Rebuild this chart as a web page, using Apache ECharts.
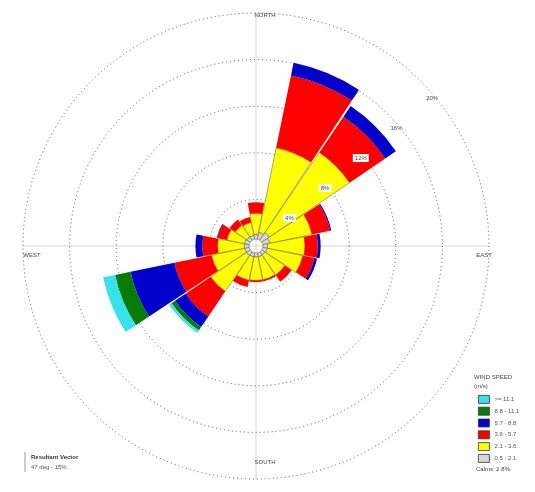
<!DOCTYPE html>
<html>
<head>
<meta charset="utf-8">
<script src="https://cdn.jsdelivr.net/npm/echarts@6/dist/echarts.min.js"></script>
<style>
  html, body { margin: 0; padding: 0; background: #fff; }
  #chart { width: 535px; height: 492px; }
</style>
</head>
<body>
<div id="chart"></div>
<script>
// Wind directions (blowing from), clockwise from north
const directions = ['N','NNE','NE','ENE','E','ESE','SE','SSE','S','SSW','SW','WSW','W','WNW','NW','NNW'];

// Wind speed classes (m/s) and their colours
const speedClasses = ['0.5 - 2.1','2.1 - 3.6','3.6 - 5.7','5.7 - 8.8','8.8 - 11.1','>= 11.1'];
const classColors  = ['#d8d8d8','#ffff00','#ff0000','#0000cc','#087a08','#38e2ea'];

// Frequency (%) of each speed class per direction
const calmCircle = [0.6,0.6,0.6,0.6,0.6,0.6,0.6,0.6,0.6,0.6,0.6,0.6,0.6,0.6,0.6,0.6];
const freq05to21 = [0.4,0.6,0.8,0.6,0.4,0.4,0.35,0.35,0.35,0.35,0.4,0.4,0.4,0.4,0.35,0.35];
const freq21to36 = [1.8,7.4,8.3,3.7,3.2,3.1,2.05,2.0,2.0,2.05,3.7,2.9,2.3,1.55,1.2,1.1];
const freq36to57 = [0.95,6.35,3.7,1.6,1.1,1.0,0.7,0.15,0.15,0.6,2.6,3.25,1.3,0.85,0.6,0.5];
const freq57to88 = [0,1.1,1.1,0.1,0.25,0.25,0,0,0,0,1.1,3.85,0.6,0.05,0,0];
const freq88to111 = [0,0,0,0,0,0,0,0,0,0,0.35,1.35,0,0,0,0];
const freqGe111  = [0,0,0,0,0,0,0,0,0,0,0.25,1.05,0,0,0,0];

// Ring values (%) and their labels
const ringValues = [4, 8, 12, 16, 20];
const ringLabels = ['4%','8%','12%','16%','20%'];

const calmsText = 'Calms: 2.8%';
const resultantTitle = 'Resultant Vector';
const resultantText = '47 deg - 15%';

// Layout of the rose
const CX = 256, CY = 246, R = 233;
const RMAX = 20;
const FONT = '"Liberation Sans", Arial, sans-serif';

const classData = [freq05to21, freq21to36, freq36to57, freq57to88, freq88to111, freqGe111];

const series = [{
  name: 'calm',
  type: 'bar',
  coordinateSystem: 'polar',
  stack: 'rose',
  data: calmCircle,
  silent: true,
  barCategoryGap: '3%',
  itemStyle: { color: 'rgba(0,0,0,0)' }
}];
speedClasses.forEach((name, i) => {
  series.push({
    name: name,
    type: 'bar',
    coordinateSystem: 'polar',
    stack: 'rose',
    data: classData[i],
    barCategoryGap: '3%',
    itemStyle: i <= 1
      ? { color: classColors[i], borderColor: '#555', borderWidth: 0.5 }
      : { color: classColors[i] }
  });
});

// Graphic elements: cross lines, compass labels, ring labels, info box
const graphics = [
  { type: 'line', z: 0, shape: { x1: CX - R, y1: CY, x2: CX + R, y2: CY }, style: { stroke: '#d4d4d4', lineWidth: 1 } },
  { type: 'line', z: 0, shape: { x1: CX, y1: CY - R, x2: CX, y2: CY + R }, style: { stroke: '#d4d4d4', lineWidth: 1 } },
  { type: 'text', x: CX + 9, y: 15, style: { text: 'NORTH', font: '6px ' + FONT, fill: '#444', align: 'center', verticalAlign: 'middle' } },
  { type: 'text', x: CX + 9, y: 462, style: { text: 'SOUTH', font: '6px ' + FONT, fill: '#444', align: 'center', verticalAlign: 'middle' } },
  { type: 'text', x: 32, y: 255, style: { text: 'WEST', font: '6px ' + FONT, fill: '#444', align: 'center', verticalAlign: 'middle' } },
  { type: 'text', x: 484, y: 255, style: { text: 'EAST', font: '6px ' + FONT, fill: '#444', align: 'center', verticalAlign: 'middle' } },
  { type: 'text', x: 474, y: 377, style: { text: 'WIND SPEED', font: '6px ' + FONT, fill: '#444', align: 'left', verticalAlign: 'middle' } },
  { type: 'text', x: 474, y: 386, style: { text: '(m/s)', font: '6px ' + FONT, fill: '#444', align: 'left', verticalAlign: 'middle' } },
  { type: 'text', x: 476, y: 469, style: { text: calmsText, font: '6px ' + FONT, fill: '#444', align: 'left', verticalAlign: 'middle' } },
  { type: 'line', shape: { x1: 25, y1: 452, x2: 25, y2: 472 }, style: { stroke: '#999', lineWidth: 1 } },
  { type: 'text', x: 31, y: 457, style: { text: resultantTitle, font: 'bold 6px ' + FONT, fill: '#333', align: 'left', verticalAlign: 'middle' } },
  { type: 'text', x: 31, y: 467, style: { text: resultantText, font: '6px ' + FONT, fill: '#555', align: 'left', verticalAlign: 'middle' } }
];
const labelBearing = 50 * Math.PI / 180;
ringValues.forEach((v, i) => {
  const r = R * v / RMAX - 3;
  graphics.push({
    type: 'text',
    z: 10,
    x: CX + r * Math.sin(labelBearing),
    y: CY - r * Math.cos(labelBearing),
    style: {
      text: ringLabels[i], font: '6px ' + FONT, fill: '#444',
      align: 'center', verticalAlign: 'middle',
      backgroundColor: '#fff', padding: [1, 2]
    }
  });
});

const chart = echarts.init(document.getElementById('chart'), null, { renderer: 'canvas' });
chart.setOption({
  animation: false,
  backgroundColor: '#fff',
  polar: { center: [CX, CY], radius: R },
  angleAxis: {
    type: 'category',
    data: directions,
    startAngle: 90 + 11.25,
    clockwise: true,
    axisLine: { show: false },
    axisTick: { show: false },
    axisLabel: { show: false },
    splitLine: { show: false }
  },
  radiusAxis: {
    type: 'value',
    min: 0,
    max: RMAX,
    interval: 4,
    axisLine: { show: false },
    axisTick: { show: false },
    axisLabel: { show: false },
    splitLine: { show: true, lineStyle: { color: '#555', type: [1, 3], width: 1 } }
  },
  legend: {
    orient: 'vertical',
    left: 478,
    top: 395,
    padding: 0,
    itemWidth: 11,
    itemHeight: 8,
    itemGap: 3,
    icon: 'rect',
    selectedMode: false,
    data: speedClasses.slice().reverse(),
    itemStyle: { borderColor: '#333', borderWidth: 0.8 },
    textStyle: { fontSize: 6, color: '#555', fontFamily: FONT, lineHeight: 8 }
  },
  graphic: graphics,
  series: series
});
</script>
</body>
</html>
